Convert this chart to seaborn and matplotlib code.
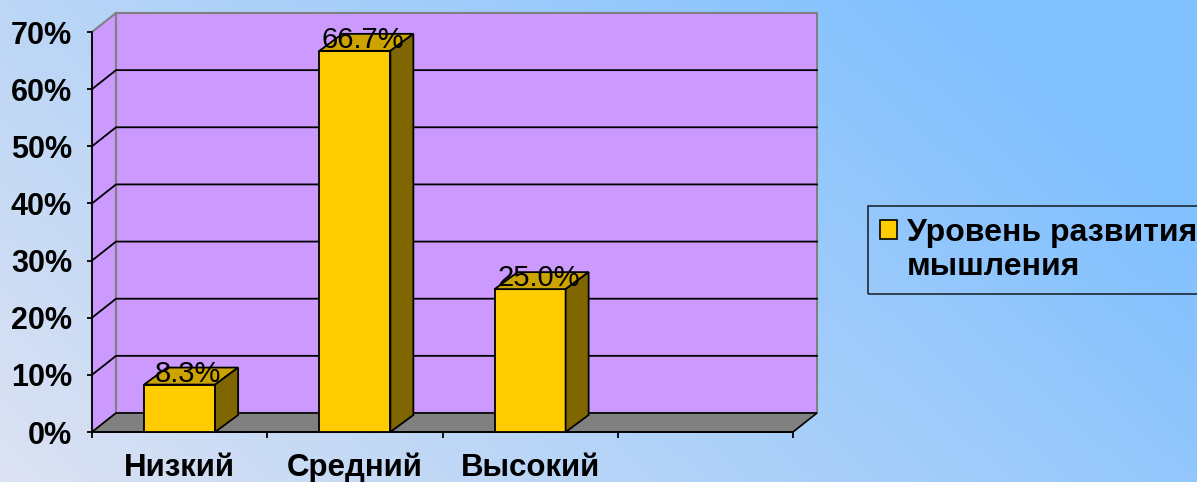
import numpy as np
import matplotlib
matplotlib.use("Agg")
import matplotlib.pyplot as plt
from matplotlib.patches import Polygon, Patch
import seaborn as sns

categories = ["Низкий", "Средний", "Высокий"]
values = [8.3, 66.7, 25.0]
y_ticks = [0, 10, 20, 30, 40, 50, 60, 70]
y_tick_labels = ["0%", "10%", "20%", "30%", "40%", "50%", "60%", "70%"]
legend_lines = ["Уровень развития", "мышления"]

plt.rcParams["font.family"] = ["Liberation Sans", "DejaVu Sans"]

W, H = 1197, 482
fig = plt.figure(figsize=(W / 100, H / 100), dpi=100)

# background gradient (light lavender bottom-left -> blue top-right)
bg = fig.add_axes([0, 0, 1, 1])
xx, yy = np.meshgrid(np.linspace(0, 1, 300), np.linspace(1, 0, 120))
t = np.clip(0.8 * xx + 0.35 * yy, 0, 1)
c0 = np.array([220, 226, 242]) / 255
c1 = np.array([128, 192, 255]) / 255
bg.imshow(c0 + (c1 - c0) * t[..., None], aspect="auto", extent=[0, 1, 0, 1])
bg.axis("off")

ax = fig.add_axes([92 / W, (H - 432) / H, 701 / W, 400 / H])
ax.set_facecolor("none")
sns.barplot(x=categories, y=values, color="#ffcc00", saturation=1, width=0.405,
            edgecolor="black", linewidth=1.3, ax=ax, zorder=4)
ax.set_xlim(-0.5, 3.5)
ax.set_ylim(0, 70)


def offset(x, y, px, py):
    d = ax.transData.transform((x, y))
    return tuple(ax.transData.inverted().transform((d[0] + px, d[1] + py)))


# walls and floor of the 3d box
x0, x1 = -0.5, 3.5
wdx, wdy = 24, 19
ytop = y_ticks[-1]
side = [(x0, 0), (x0, ytop), offset(x0, ytop, wdx, wdy), offset(x0, 0, wdx, wdy)]
back = [offset(x0, 0, wdx, wdy), offset(x1, 0, wdx, wdy),
        offset(x1, ytop, wdx, wdy), offset(x0, ytop, wdx, wdy)]
floor = [(x0, 0), (x1, 0), offset(x1, 0, wdx, wdy), offset(x0, 0, wdx, wdy)]
for pts in (side, back):
    ax.add_patch(Polygon(pts, closed=True, facecolor="#cc99ff", edgecolor="#808080",
                         linewidth=1.5, clip_on=False, zorder=0.5))
ax.add_patch(Polygon(floor, closed=True, facecolor="#808080", edgecolor="black",
                     linewidth=1.2, clip_on=False, zorder=1.5))

for y in y_ticks[1:-1]:
    b0 = offset(x0, y, wdx, wdy)
    b1 = offset(x1, y, wdx, wdy)
    ax.plot([x0, b0[0], b1[0]], [y, b0[1], b1[1]], color="black", lw=1.3,
            clip_on=False, zorder=1)

# bar tops / sides and value labels
bdx, bdy = 23, 17
for bar, v in zip(ax.containers[0], values):
    l = bar.get_x()
    r = l + bar.get_width()
    h = bar.get_height()
    top = [(l, h), (r, h), offset(r, h, bdx, bdy), offset(l, h, bdx, bdy)]
    rs = [(r, 0), (r, h), offset(r, h, bdx, bdy), offset(r, 0, bdx, bdy)]
    ax.add_patch(Polygon(top, closed=True, facecolor="#cca300", edgecolor="black",
                         linewidth=1.3, clip_on=False, zorder=4))
    ax.add_patch(Polygon(rs, closed=True, facecolor="#806600", edgecolor="black",
                         linewidth=1.3, clip_on=False, zorder=4))
    ax.annotate(f"{v:.1f}%", xy=(l + bar.get_width() / 2, h), xytext=(6, 2),
                textcoords="offset points", ha="center", va="baseline",
                fontsize=21, zorder=6, annotation_clip=False)

# axes styling
for s in ("top", "right"):
    ax.spines[s].set_visible(False)
for s in ("left", "bottom"):
    ax.spines[s].set_color("black")
    ax.spines[s].set_linewidth(1.3)
    ax.spines[s].set_zorder(3)

ax.set_yticks(y_ticks, y_tick_labels, fontweight="bold")
ax.tick_params(axis="y", direction="out", length=3.6, width=1.3, pad=10.8, labelsize=22)
ax.set_xticks(range(len(categories)), categories, fontweight="bold")
ax.tick_params(axis="x", which="major", length=0, pad=15, labelsize=22.5)
ax.set_xticks(np.arange(x0, x1 + 0.1, 1), minor=True)
ax.tick_params(axis="x", which="minor", direction="out", length=4.3, width=1.3)
ax.set_xlabel("")
ax.set_ylabel("")

handles = [Patch(facecolor="#ffcc00", edgecolor="black", linewidth=1.2),
           Patch(facecolor="none", edgecolor="none")]
leg = fig.legend(handles, legend_lines, loc="upper left",
                 bbox_to_anchor=(868 / W, 1 - 206 / H), frameon=True, fancybox=False,
                 edgecolor="black", facecolor="none",
                 prop={"weight": "bold", "size": 23}, handlelength=0.55,
                 handleheight=0.55, handletextpad=0.3, borderpad=0.36,
                 labelspacing=0.15, borderaxespad=0)
leg.get_frame().set_linewidth(1.2)

fig.savefig("out.png", dpi=100)
